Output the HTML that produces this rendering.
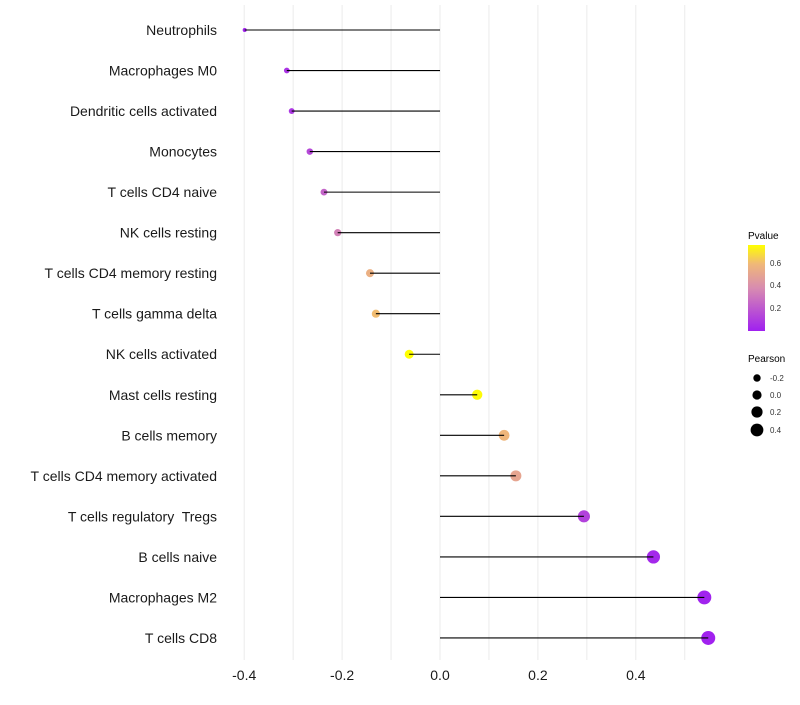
<!DOCTYPE html>
<html><head><meta charset="utf-8"><style>
body{margin:0;background:#fff;font-family:"Liberation Sans",sans-serif}
text{white-space:pre}
</style></head><body>
<svg id="chart" width="800" height="700" xmlns="http://www.w3.org/2000/svg" font-family="Liberation Sans, sans-serif">
<defs><linearGradient id="pg" x1="0" y1="1" x2="0" y2="0">
<stop offset="0" stop-color="#a020f0"/><stop offset="0.5" stop-color="#d88cb0"/><stop offset="0.78" stop-color="#f0b878"/><stop offset="1" stop-color="#ffff00"/></linearGradient></defs>
<g id="grid"></g>
<g id="dots"></g>
<g id="marks"></g>
<g id="ylabels"></g>
<g id="xlabels"></g>
<g>
<text x="748" y="239" font-size="10">Pvalue</text>
<rect x="748" y="245" width="17" height="86" fill="url(#pg)"/>
<text x="770" y="266" font-size="8" fill="#333">0.6</text>
<text x="770" y="288" font-size="8" fill="#333">0.4</text>
<text x="770" y="311" font-size="8" fill="#333">0.2</text>
</g>
<g>
<text x="748" y="362" font-size="10">Pearson</text>
<circle cx="757" cy="378" r="3.7"/><text x="770" y="381" font-size="8" fill="#333">-0.2</text>
<circle cx="757" cy="395" r="4.6"/><text x="770" y="398" font-size="8" fill="#333">0.0</text>
<circle cx="757" cy="412" r="5.6"/><text x="770" y="415" font-size="8" fill="#333">0.2</text>
<circle cx="757" cy="430" r="6.4"/><text x="770" y="433" font-size="8" fill="#333">0.4</text>
</g>
</svg>
<script>
const categories=["Neutrophils","Macrophages M0","Dendritic cells activated","Monocytes","T cells CD4 naive","NK cells resting","T cells CD4 memory resting","T cells gamma delta","NK cells activated","Mast cells resting","B cells memory","T cells CD4 memory activated","T cells regulatory  Tregs","B cells naive","Macrophages M2","T cells CD8"];
const pearson=[-0.399,-0.313,-0.303,-0.266,-0.237,-0.209,-0.143,-0.131,-0.063,0.076,0.131,0.155,0.294,0.436,0.540,0.548];
const pvalue=[0.01,0.07,0.08,0.14,0.24,0.34,0.55,0.6,0.76,0.75,0.58,0.5,0.12,0.03,0.01,0.005];
const xTicks=[-0.4,-0.2,0.0,0.2,0.4];
const xTickLabels=["-0.4","-0.2","0.0","0.2","0.4"];
const gridVals=[-0.4,-0.3,-0.2,-0.1,0,0.1,0.2,0.3,0.4,0.5];
const NS="http://www.w3.org/2000/svg";
const xs=v=>440+v*489.5;
const ys=i=>30+i*40.53;
const rs=v=>Math.sqrt(Math.max(1,23+47.4*v));
const stops=[[0,[160,32,240]],[0.38,[216,140,176]],[0.59,[240,184,120]],[0.76,[255,255,0]]];
function col(p){p=Math.max(0,Math.min(0.76,p));for(let k=0;k<stops.length-1;k++){const a=stops[k],b=stops[k+1];if(p<=b[0]){const t=(p-a[0])/(b[0]-a[0]);return "rgb("+a[1].map((c,j)=>Math.round(c+(b[1][j]-c)*t)).join(",")+")";}}return "rgb(255,255,0)";}
function mk(tag,at,parent){const e=document.createElementNS(NS,tag);for(const k in at)e.setAttribute(k,at[k]);document.getElementById(parent).appendChild(e);return e;}
gridVals.forEach(v=>{const l=mk("line",{x1:xs(v),x2:xs(v),y1:5,y2:660,stroke:"#ebebeb","stroke-width":1},"grid");

});
categories.forEach((c,i)=>{
const d=mk("circle",{cx:xs(pearson[i]),cy:ys(i),r:rs(pearson[i]),fill:col(pvalue[i])},"dots");


const s=mk("line",{x1:xs(0),x2:xs(pearson[i]),y1:ys(i),y2:ys(i),stroke:"#000","stroke-width":1.1},"marks");


const t=mk("text",{x:217,y:ys(i)+5,"text-anchor":"end","font-size":14,fill:"#1a1a1a"},"ylabels");t.textContent=c;


});
xTicks.forEach((v,i)=>{const t=mk("text",{x:xs(v),y:680,"text-anchor":"middle","font-size":14,fill:"#1a1a1a"},"xlabels");t.textContent=xTickLabels[i];

});
</script>
</body></html>
